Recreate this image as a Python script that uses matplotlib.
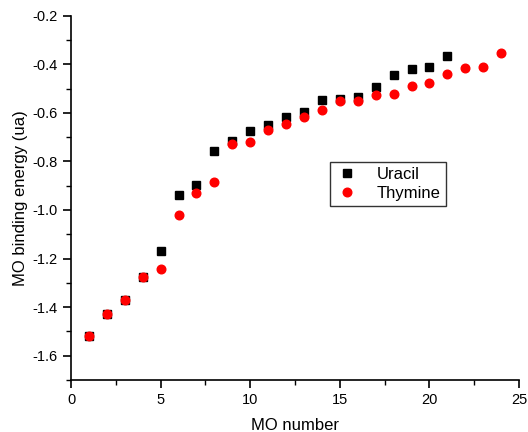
import matplotlib
matplotlib.use("Agg")
import matplotlib.pyplot as plt
from matplotlib.ticker import MultipleLocator

plt.rcParams['font.family'] = ['Liberation Sans', 'DejaVu Sans']

uracil_x = list(range(1, 22))
uracil_y = [-1.518, -1.427, -1.371, -1.274, -1.170, -0.940, -0.897, -0.759, -0.715,
            -0.675, -0.649, -0.616, -0.597, -0.548, -0.542, -0.535, -0.494, -0.445,
            -0.419, -0.412, -0.368]
thymine_x = list(range(1, 25))
thymine_y = [-1.518, -1.427, -1.371, -1.274, -1.241, -1.019, -0.929, -0.886, -0.727,
             -0.720, -0.671, -0.646, -0.619, -0.590, -0.551, -0.551, -0.527, -0.522,
             -0.490, -0.478, -0.442, -0.416, -0.411, -0.355]

fig = plt.figure(figsize=(5.28, 4.32), dpi=100)
ax = fig.add_axes([0.1345, 0.1204, 0.983 - 0.1345, 0.9637 - 0.1204])

ax.plot(uracil_x, uracil_y, linestyle='none', marker='s', color='black', markersize=5.5, label='Uracil')
ax.plot(thymine_x, thymine_y, linestyle='none', marker='o', color='red', markersize=6.2, label='Thymine')

ax.set_xlim(0, 25)
ax.set_ylim(-1.7, -0.2)
ax.xaxis.set_major_locator(MultipleLocator(5))
ax.xaxis.set_minor_locator(MultipleLocator(2.5))
ax.yaxis.set_major_locator(MultipleLocator(0.2))
ax.yaxis.set_minor_locator(MultipleLocator(0.1))
ax.yaxis.set_major_formatter(plt.FuncFormatter(lambda v, p: f"{v:.1f}"))
ax.spines['top'].set_visible(False)
ax.spines['right'].set_visible(False)
for s in ('left', 'bottom'):
    ax.spines[s].set_linewidth(1.2)
ax.tick_params(which='major', direction='out', length=6, width=1.2, labelsize=10.5)
ax.tick_params(which='minor', direction='out', length=3.5, width=1.0)

ax.set_xlabel('MO number', fontsize=12, labelpad=8)
ax.set_ylabel('MO binding energy (ua)', fontsize=12, labelpad=3)

leg = ax.legend(loc='upper left', bbox_to_anchor=(0.578, 0.598), frameon=True, fancybox=False,
                edgecolor='black', fontsize=12, handletextpad=1.0, borderpad=0.3,
                labelspacing=0.25, handlelength=1.5, borderaxespad=0)
leg.get_frame().set_linewidth(1.0)

fig.savefig('out.png', dpi=100)
